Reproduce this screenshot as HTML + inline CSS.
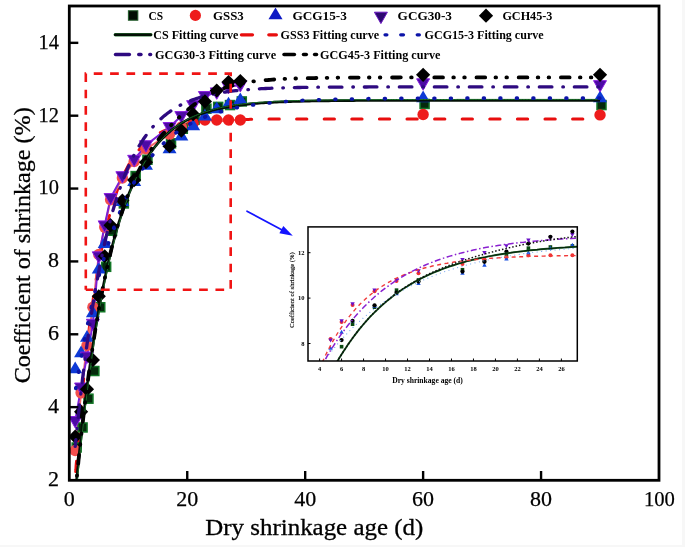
<!DOCTYPE html>
<html><head><meta charset="utf-8"><title>chart</title>
<style>
html,body{margin:0;padding:0;background:#fff;}
body{width:685px;height:547px;overflow:hidden;position:relative;font-family:"Liberation Serif",serif;}
</style></head><body>
<svg width="685" height="547" viewBox="0 0 685 547" style="display:block;position:absolute;left:0;top:0;will-change:transform">
<rect width="685" height="547" fill="#ffffff"/>
<rect x="682" y="0" width="3" height="547" fill="#f7f7f7"/>
<rect x="0" y="545" width="685" height="2" fill="#f7f7f7"/>
<defs>
<clipPath id="cm"><rect x="69.30" y="6.00" width="589.70" height="474.30"/></clipPath>
</defs>
<g clip-path="url(#cm)">
<path d="M75.2,478.5 L75.3,477.5 L75.4,475.5 L75.6,472.8 L75.9,469.5 L76.1,465.7 L76.5,461.5 L76.8,456.9 L77.2,451.9 L77.6,446.7 L78.1,441.1 L78.5,435.3 L79.0,429.4 L79.5,423.2 L80.1,416.9 L80.7,410.4 L81.3,403.8 L81.9,397.1 L82.5,390.4 L83.2,383.6 L83.9,376.7 L84.6,369.8 L85.3,363.0 L86.0,356.1 L86.8,349.2 L87.6,342.4 L88.4,335.6 L89.2,328.9 L90.0,322.3 L90.9,315.7 L91.8,309.2 L92.7,302.7 L93.6,296.4 L94.5,290.2 L95.4,284.1 L96.4,278.1 L97.4,272.3 L98.4,266.5 L99.4,260.9 L100.4,255.4 L101.5,250.0 L102.5,244.8 L103.6,239.7 L104.7,234.8 L105.8,230.0 L106.9,225.3 L108.0,220.8 L109.2,216.4 L110.4,212.1 L111.5,208.0 L112.7,204.0 L113.9,200.1 L115.2,196.4 L116.4,192.8 L117.6,189.3 L118.9,186.0 L120.2,182.8 L121.5,179.7 L122.8,176.7 L124.1,173.9 L125.4,171.1 L126.8,168.5 L128.1,166.0 L129.5,163.5 L130.9,161.2 L132.3,159.0 L133.7,156.9 L135.1,154.9 L136.6,152.9 L138.0,151.1 L139.5,149.3 L141.0,147.7 L142.5,146.1 L144.0,144.5 L145.5,143.1 L147.0,141.7 L148.5,140.4 L150.1,139.2 L151.7,138.0 L153.2,136.9 L154.8,135.8 L156.4,134.8 L158.0,133.8 L159.6,132.9 L161.3,132.1 L162.9,131.3 L164.6,130.5 L166.3,129.8 L167.9,129.1 L169.6,128.5 L171.3,127.9 L173.0,127.3 L174.8,126.8 L176.5,126.3 L178.3,125.8 L180.0,125.3 L181.8,124.9 L183.6,124.5 L185.4,124.1 L187.2,123.8 L189.0,123.5 L190.8,123.2 L192.6,122.9 L194.5,122.6 L196.3,122.3 L198.2,122.1 L200.1,121.9 L202.0,121.7 L203.9,121.5 L205.8,121.3 L207.7,121.1 L209.7,121.0 L211.6,120.8 L213.6,120.7 L215.5,120.6 L217.5,120.4 L219.5,120.3 L221.5,120.2 L223.5,120.1 L225.5,120.0 L227.5,119.9 L229.6,119.9 L231.6,119.8 L233.7,119.7 L235.7,119.7 L237.8,119.6 L239.9,119.6 L242.0,119.5 L244.1,119.5 L246.2,119.4 L248.3,119.4 L250.5,119.3 L252.6,119.3 L254.8,119.3 L256.9,119.2 L259.1,119.2 L261.3,119.2 L263.5,119.2 L265.7,119.2 L267.9,119.1 L270.1,119.1 L272.4,119.1 L274.6,119.1 L276.8,119.1 L279.1,119.1 L281.4,119.0 L283.7,119.0 L285.9,119.0 L288.2,119.0 L290.6,119.0 L292.9,119.0 L295.2,119.0 L297.5,119.0 L299.9,119.0 L302.2,119.0 L304.6,119.0 L307.0,119.0 L309.4,119.0 L311.7,119.0 L314.1,119.0 L316.6,118.9 L319.0,118.9 L321.4,118.9 L323.8,118.9 L326.3,118.9 L328.7,118.9 L331.2,118.9 L333.7,118.9 L336.1,118.9 L338.6,118.9 L341.1,118.9 L343.6,118.9 L346.2,118.9 L348.7,118.9 L351.2,118.9 L353.8,118.9 L356.3,118.9 L358.9,118.9 L361.4,118.9 L364.0,118.9 L366.6,118.9 L369.2,118.9 L371.8,118.9 L374.4,118.9 L377.0,118.9 L379.7,118.9 L382.3,118.9 L384.9,118.9 L387.6,118.9 L390.3,118.9 L392.9,118.9 L395.6,118.9 L398.3,118.9 L401.0,118.9 L403.7,118.9 L406.4,118.9 L409.1,118.9 L411.9,118.9 L414.6,118.9 L417.4,118.9 L420.1,118.9 L422.9,118.9 L425.6,118.9 L428.4,118.9 L431.2,118.9 L434.0,118.9 L436.8,118.9 L439.6,118.9 L442.4,118.9 L445.3,118.9 L448.1,118.9 L451.0,118.9 L453.8,118.9 L456.7,118.9 L459.5,118.9 L462.4,118.9 L465.3,118.9 L468.2,118.9 L471.1,118.9 L474.0,118.9 L476.9,118.9 L479.9,118.9 L482.8,118.9 L485.7,118.9 L488.7,118.9 L491.6,118.9 L494.6,118.9 L497.6,118.9 L500.6,118.9 L503.5,118.9 L506.5,118.9 L509.6,118.9 L512.6,118.9 L515.6,118.9 L518.6,118.9 L521.6,118.9 L524.7,118.9 L527.7,118.9 L530.8,118.9 L533.9,118.9 L536.9,118.9 L540.0,118.9 L543.1,118.9 L546.2,118.9 L549.3,118.9 L552.4,118.9 L555.5,118.9 L558.7,118.9 L561.8,118.9 L565.0,118.9 L568.1,118.9 L571.3,118.9 L574.4,118.9 L577.6,118.9 L580.8,118.9 L584.0,118.9 L587.2,118.9 L590.4,118.9 L593.6,118.9 L596.8,118.9 L600.0,118.9" fill="none" stroke="#e80e0e" stroke-width="3.0" stroke-linecap="round" stroke-dasharray="10.3 17.3" stroke-dashoffset="20.69"/>
<polyline points="75.20,450.43 81.09,392.87 86.99,345.51 92.89,307.26 98.78,254.43 104.68,227.11 110.58,199.79 122.37,177.93 134.17,161.54 145.96,148.79 169.55,134.22 181.34,126.93 193.14,123.29 204.93,120.01 216.73,120.01 228.52,120.01 240.31,120.01" fill="none" stroke="#f46a6a" stroke-width="2" stroke-linejoin="round"/>
<polyline points="75.20,420.92 81.09,387.40 86.99,356.44 92.89,323.65 98.78,256.26 104.68,225.29 110.58,197.97 122.37,176.11 134.17,159.72 145.96,145.14 169.55,126.93 181.34,116.00 193.14,105.07 204.93,95.96 216.73,92.32 228.52,86.86 240.31,85.03" fill="none" stroke="#7a1fd6" stroke-width="2" stroke-linejoin="round"/>
<rect x="72.17" y="443.01" width="9.00" height="9.00" fill="#052a0c" stroke="#127626" stroke-width="1.5" stroke-linejoin="miter"/>
<rect x="78.07" y="422.98" width="9.00" height="9.00" fill="#052a0c" stroke="#127626" stroke-width="1.5" stroke-linejoin="miter"/>
<rect x="83.97" y="394.20" width="9.00" height="9.00" fill="#052a0c" stroke="#127626" stroke-width="1.5" stroke-linejoin="miter"/>
<rect x="89.86" y="366.51" width="9.00" height="9.00" fill="#052a0c" stroke="#127626" stroke-width="1.5" stroke-linejoin="miter"/>
<rect x="95.76" y="302.76" width="9.00" height="9.00" fill="#052a0c" stroke="#127626" stroke-width="1.5" stroke-linejoin="miter"/>
<rect x="101.66" y="262.32" width="9.00" height="9.00" fill="#052a0c" stroke="#127626" stroke-width="1.5" stroke-linejoin="miter"/>
<rect x="107.55" y="226.25" width="9.00" height="9.00" fill="#052a0c" stroke="#127626" stroke-width="1.5" stroke-linejoin="miter"/>
<rect x="119.35" y="198.93" width="9.00" height="9.00" fill="#052a0c" stroke="#127626" stroke-width="1.5" stroke-linejoin="miter"/>
<rect x="131.14" y="171.61" width="9.00" height="9.00" fill="#052a0c" stroke="#127626" stroke-width="1.5" stroke-linejoin="miter"/>
<rect x="142.94" y="155.22" width="9.00" height="9.00" fill="#052a0c" stroke="#127626" stroke-width="1.5" stroke-linejoin="miter"/>
<rect x="166.52" y="138.82" width="9.00" height="9.00" fill="#052a0c" stroke="#127626" stroke-width="1.5" stroke-linejoin="miter"/>
<rect x="178.32" y="124.25" width="9.00" height="9.00" fill="#052a0c" stroke="#127626" stroke-width="1.5" stroke-linejoin="miter"/>
<rect x="190.11" y="115.14" width="9.00" height="9.00" fill="#052a0c" stroke="#127626" stroke-width="1.5" stroke-linejoin="miter"/>
<rect x="201.91" y="104.21" width="9.00" height="9.00" fill="#052a0c" stroke="#127626" stroke-width="1.5" stroke-linejoin="miter"/>
<rect x="213.70" y="102.39" width="9.00" height="9.00" fill="#052a0c" stroke="#127626" stroke-width="1.5" stroke-linejoin="miter"/>
<rect x="225.49" y="100.57" width="9.00" height="9.00" fill="#052a0c" stroke="#127626" stroke-width="1.5" stroke-linejoin="miter"/>
<rect x="237.29" y="96.93" width="9.00" height="9.00" fill="#052a0c" stroke="#127626" stroke-width="1.5" stroke-linejoin="miter"/>
<rect x="420.09" y="99.48" width="9.00" height="9.00" fill="#052a0c" stroke="#127626" stroke-width="1.5" stroke-linejoin="miter"/>
<rect x="597.00" y="100.57" width="9.00" height="9.00" fill="#052a0c" stroke="#127626" stroke-width="1.5" stroke-linejoin="miter"/>
<circle cx="75.20" cy="450.43" r="5.70" fill="#f24e4e"/>
<circle cx="81.09" cy="392.87" r="5.70" fill="#f24e4e"/>
<circle cx="86.99" cy="345.51" r="5.70" fill="#f24e4e"/>
<circle cx="92.89" cy="307.26" r="5.70" fill="#f24e4e"/>
<circle cx="98.78" cy="254.43" r="5.70" fill="#f24e4e"/>
<circle cx="104.68" cy="227.11" r="5.70" fill="#f24e4e"/>
<circle cx="110.58" cy="199.79" r="5.70" fill="#f24e4e"/>
<circle cx="122.37" cy="177.93" r="5.70" fill="#f24e4e"/>
<circle cx="134.17" cy="161.54" r="5.70" fill="#f24e4e"/>
<circle cx="145.96" cy="148.79" r="5.70" fill="#f24e4e"/>
<circle cx="169.55" cy="134.22" r="5.70" fill="#f24e4e"/>
<circle cx="181.34" cy="126.93" r="5.70" fill="#f24e4e"/>
<circle cx="193.14" cy="123.29" r="5.70" fill="#ee1c1c"/>
<circle cx="204.93" cy="120.01" r="5.70" fill="#ee1c1c"/>
<circle cx="216.73" cy="120.01" r="5.70" fill="#ee1c1c"/>
<circle cx="228.52" cy="120.01" r="5.70" fill="#ee1c1c"/>
<circle cx="240.31" cy="120.01" r="5.70" fill="#ee1c1c"/>
<circle cx="423.12" cy="114.54" r="5.70" fill="#ee1c1c"/>
<circle cx="600.03" cy="114.91" r="5.70" fill="#ee1c1c"/>
<polygon points="68.20,373.32 82.20,373.32 75.20,361.62" fill="#0e3ad6"/>
<polygon points="74.09,357.30 88.09,357.30 81.09,345.60" fill="#0e3ad6"/>
<polygon points="79.99,341.63 93.99,341.63 86.99,329.93" fill="#0e3ad6"/>
<polygon points="85.89,317.22 99.89,317.22 92.89,305.52" fill="#0e3ad6"/>
<polygon points="91.78,273.51 105.78,273.51 98.78,261.81" fill="#0e3ad6"/>
<polygon points="97.68,248.01 111.68,248.01 104.68,236.31" fill="#0e3ad6"/>
<polygon points="103.58,229.79 117.58,229.79 110.58,218.09" fill="#0e3ad6"/>
<polygon points="115.37,206.11 129.37,206.11 122.37,194.41" fill="#0e3ad6"/>
<polygon points="127.17,186.07 141.17,186.07 134.17,174.37" fill="#0e3ad6"/>
<polygon points="138.96,169.68 152.96,169.68 145.96,157.98" fill="#0e3ad6"/>
<polygon points="162.55,153.29 176.55,153.29 169.55,141.59" fill="#0e3ad6"/>
<polygon points="174.34,140.54 188.34,140.54 181.34,128.84" fill="#0e3ad6"/>
<polygon points="186.14,130.34 200.14,130.34 193.14,118.64" fill="#0e3ad6"/>
<polygon points="197.93,120.50 211.93,120.50 204.93,108.80" fill="#0e3ad6"/>
<polygon points="209.73,113.21 223.73,113.21 216.73,101.51" fill="#0e3ad6"/>
<polygon points="221.52,108.48 235.52,108.48 228.52,96.78" fill="#0e3ad6"/>
<polygon points="233.31,104.11 247.31,104.11 240.31,92.41" fill="#0e3ad6"/>
<polygon points="416.12,102.29 430.12,102.29 423.12,90.59" fill="#0e3ad6"/>
<polygon points="593.03,102.29 607.03,102.29 600.03,90.59" fill="#0e3ad6"/>
<polygon points="68.70,416.52 81.70,416.52 75.20,427.92" fill="#4c0aa4" stroke="#8a1ee0" stroke-width="1.0" stroke-linejoin="miter"/>
<polygon points="74.59,383.00 87.59,383.00 81.09,394.40" fill="#4c0aa4" stroke="#8a1ee0" stroke-width="1.0" stroke-linejoin="miter"/>
<polygon points="80.49,352.04 93.49,352.04 86.99,363.44" fill="#4c0aa4" stroke="#8a1ee0" stroke-width="1.0" stroke-linejoin="miter"/>
<polygon points="86.39,319.25 99.39,319.25 92.89,330.65" fill="#4c0aa4" stroke="#8a1ee0" stroke-width="1.0" stroke-linejoin="miter"/>
<polygon points="92.28,251.86 105.28,251.86 98.78,263.26" fill="#4c0aa4" stroke="#8a1ee0" stroke-width="1.0" stroke-linejoin="miter"/>
<polygon points="98.18,220.89 111.18,220.89 104.68,232.29" fill="#4c0aa4" stroke="#8a1ee0" stroke-width="1.0" stroke-linejoin="miter"/>
<polygon points="104.08,193.57 117.08,193.57 110.58,204.97" fill="#4c0aa4" stroke="#8a1ee0" stroke-width="1.0" stroke-linejoin="miter"/>
<polygon points="115.87,171.71 128.87,171.71 122.37,183.11" fill="#4c0aa4" stroke="#8a1ee0" stroke-width="1.0" stroke-linejoin="miter"/>
<polygon points="127.67,155.32 140.67,155.32 134.17,166.72" fill="#4c0aa4" stroke="#8a1ee0" stroke-width="1.0" stroke-linejoin="miter"/>
<polygon points="139.46,140.74 152.46,140.74 145.96,152.14" fill="#4c0aa4" stroke="#8a1ee0" stroke-width="1.0" stroke-linejoin="miter"/>
<polygon points="163.05,122.53 176.05,122.53 169.55,133.93" fill="#4c0aa4" stroke="#8a1ee0" stroke-width="1.0" stroke-linejoin="miter"/>
<polygon points="174.84,111.60 187.84,111.60 181.34,123.00" fill="#4c0aa4" stroke="#8a1ee0" stroke-width="1.0" stroke-linejoin="miter"/>
<polygon points="186.64,100.67 199.64,100.67 193.14,112.07" fill="#4c0aa4" stroke="#8a1ee0" stroke-width="1.0" stroke-linejoin="miter"/>
<polygon points="198.43,91.56 211.43,91.56 204.93,102.96" fill="#4c0aa4" stroke="#8a1ee0" stroke-width="1.0" stroke-linejoin="miter"/>
<polygon points="210.23,87.92 223.23,87.92 216.73,99.32" fill="#4c0aa4" stroke="#8a1ee0" stroke-width="1.0" stroke-linejoin="miter"/>
<polygon points="222.02,82.46 235.02,82.46 228.52,93.86" fill="#4c0aa4" stroke="#8a1ee0" stroke-width="1.0" stroke-linejoin="miter"/>
<polygon points="233.81,80.63 246.81,80.63 240.31,92.03" fill="#4c0aa4" stroke="#8a1ee0" stroke-width="1.0" stroke-linejoin="miter"/>
<polygon points="416.62,78.81 429.62,78.81 423.12,90.21" fill="#4c0aa4" stroke="#8a1ee0" stroke-width="1.0" stroke-linejoin="miter"/>
<polygon points="593.53,80.63 606.53,80.63 600.03,92.03" fill="#4c0aa4" stroke="#8a1ee0" stroke-width="1.0" stroke-linejoin="miter"/>
<polygon points="68.10,436.58 75.20,429.48 82.30,436.58 75.20,443.68" fill="#000000"/>
<polygon points="73.99,411.81 81.09,404.71 88.19,411.81 81.09,418.91" fill="#000000"/>
<polygon points="79.89,389.23 86.99,382.12 94.09,389.23 86.99,396.33" fill="#000000"/>
<polygon points="85.79,360.08 92.89,352.98 99.99,360.08 92.89,367.18" fill="#000000"/>
<polygon points="91.69,296.33 98.78,289.23 105.88,296.33 98.78,303.43" fill="#000000"/>
<polygon points="97.58,256.26 104.68,249.16 111.78,256.26 104.68,263.36" fill="#000000"/>
<polygon points="103.48,225.29 110.58,218.19 117.68,225.29 110.58,232.39" fill="#000000"/>
<polygon points="115.27,200.52 122.37,193.42 129.47,200.52 122.37,207.62" fill="#000000"/>
<polygon points="127.07,180.12 134.17,173.02 141.27,180.12 134.17,187.22" fill="#000000"/>
<polygon points="138.86,162.27 145.96,155.17 153.06,162.27 145.96,169.37" fill="#000000"/>
<polygon points="162.45,146.24 169.55,139.14 176.65,146.24 169.55,153.34" fill="#000000"/>
<polygon points="174.24,130.57 181.34,123.47 188.44,130.57 181.34,137.67" fill="#000000"/>
<polygon points="186.04,114.18 193.14,107.08 200.24,114.18 193.14,121.28" fill="#000000"/>
<polygon points="197.83,101.43 204.93,94.33 212.03,101.43 204.93,108.53" fill="#000000"/>
<polygon points="209.63,90.50 216.73,83.40 223.83,90.50 216.73,97.60" fill="#000000"/>
<polygon points="221.42,82.12 228.52,75.02 235.62,82.12 228.52,89.22" fill="#000000"/>
<polygon points="233.21,81.03 240.31,73.93 247.41,81.03 240.31,88.13" fill="#000000"/>
<polygon points="416.02,74.83 423.12,67.73 430.22,74.83 423.12,81.93" fill="#000000"/>
<polygon points="592.93,74.83 600.03,67.73 607.13,74.83 600.03,81.93" fill="#000000"/>
<path d="M75.2,494.5 L75.3,493.7 L75.4,492.2 L75.6,490.1 L75.9,487.5 L76.1,484.6 L76.5,481.4 L76.8,477.8 L77.2,473.9 L77.6,469.8 L78.1,465.4 L78.5,460.8 L79.0,456.1 L79.5,451.1 L80.1,446.0 L80.7,440.8 L81.3,435.4 L81.9,429.9 L82.5,424.3 L83.2,418.6 L83.9,412.8 L84.6,407.0 L85.3,401.1 L86.0,395.2 L86.8,389.2 L87.6,383.2 L88.4,377.2 L89.2,371.2 L90.0,365.1 L90.9,359.1 L91.8,353.1 L92.7,347.2 L93.6,341.2 L94.5,335.3 L95.4,329.4 L96.4,323.6 L97.4,317.8 L98.4,312.1 L99.4,306.5 L100.4,300.9 L101.5,295.3 L102.5,289.9 L103.6,284.5 L104.7,279.2 L105.8,274.0 L106.9,268.9 L108.0,263.8 L109.2,258.9 L110.4,254.0 L111.5,249.2 L112.7,244.5 L113.9,239.9 L115.2,235.4 L116.4,231.0 L117.6,226.7 L118.9,222.5 L120.2,218.4 L121.5,214.4 L122.8,210.5 L124.1,206.6 L125.4,202.9 L126.8,199.3 L128.1,195.7 L129.5,192.3 L130.9,188.9 L132.3,185.7 L133.7,182.5 L135.1,179.4 L136.6,176.4 L138.0,173.5 L139.5,170.7 L141.0,168.0 L142.5,165.4 L144.0,162.8 L145.5,160.3 L147.0,157.9 L148.5,155.6 L150.1,153.3 L151.7,151.2 L153.2,149.1 L154.8,147.0 L156.4,145.1 L158.0,143.2 L159.6,141.4 L161.3,139.6 L162.9,137.9 L164.6,136.3 L166.3,134.7 L167.9,133.2 L169.6,131.7 L171.3,130.3 L173.0,129.0 L174.8,127.7 L176.5,126.5 L178.3,125.3 L180.0,124.1 L181.8,123.0 L183.6,122.0 L185.4,120.9 L187.2,120.0 L189.0,119.0 L190.8,118.1 L192.6,117.3 L194.5,116.5 L196.3,115.7 L198.2,114.9 L200.1,114.2 L202.0,113.5 L203.9,112.9 L205.8,112.3 L207.7,111.7 L209.7,111.1 L211.6,110.5 L213.6,110.0 L215.5,109.5 L217.5,109.0 L219.5,108.6 L221.5,108.2 L223.5,107.8 L225.5,107.4 L227.5,107.0 L229.6,106.6 L231.6,106.3 L233.7,106.0 L235.7,105.7 L237.8,105.4 L239.9,105.1 L242.0,104.9 L244.1,104.6 L246.2,104.4 L248.3,104.1 L250.5,103.9 L252.6,103.7 L254.8,103.5 L256.9,103.4 L259.1,103.2 L261.3,103.0 L263.5,102.9 L265.7,102.7 L267.9,102.6 L270.1,102.5 L272.4,102.3 L274.6,102.2 L276.8,102.1 L279.1,102.0 L281.4,101.9 L283.7,101.8 L285.9,101.7 L288.2,101.6 L290.6,101.6 L292.9,101.5 L295.2,101.4 L297.5,101.4 L299.9,101.3 L302.2,101.2 L304.6,101.2 L307.0,101.1 L309.4,101.1 L311.7,101.0 L314.1,101.0 L316.6,100.9 L319.0,100.9 L321.4,100.9 L323.8,100.8 L326.3,100.8 L328.7,100.8 L331.2,100.7 L333.7,100.7 L336.1,100.7 L338.6,100.7 L341.1,100.7 L343.6,100.6 L346.2,100.6 L348.7,100.6 L351.2,100.6 L353.8,100.6 L356.3,100.5 L358.9,100.5 L361.4,100.5 L364.0,100.5 L366.6,100.5 L369.2,100.5 L371.8,100.5 L374.4,100.5 L377.0,100.5 L379.7,100.4 L382.3,100.4 L384.9,100.4 L387.6,100.4 L390.3,100.4 L392.9,100.4 L395.6,100.4 L398.3,100.4 L401.0,100.4 L403.7,100.4 L406.4,100.4 L409.1,100.4 L411.9,100.4 L414.6,100.4 L417.4,100.4 L420.1,100.4 L422.9,100.4 L425.6,100.4 L428.4,100.4 L431.2,100.4 L434.0,100.4 L436.8,100.4 L439.6,100.4 L442.4,100.4 L445.3,100.4 L448.1,100.4 L451.0,100.4 L453.8,100.4 L456.7,100.3 L459.5,100.3 L462.4,100.3 L465.3,100.3 L468.2,100.3 L471.1,100.3 L474.0,100.3 L476.9,100.3 L479.9,100.3 L482.8,100.3 L485.7,100.3 L488.7,100.3 L491.6,100.3 L494.6,100.3 L497.6,100.3 L500.6,100.3 L503.5,100.3 L506.5,100.3 L509.6,100.3 L512.6,100.3 L515.6,100.3 L518.6,100.3 L521.6,100.3 L524.7,100.3 L527.7,100.3 L530.8,100.3 L533.9,100.3 L536.9,100.3 L540.0,100.3 L543.1,100.3 L546.2,100.3 L549.3,100.3 L552.4,100.3 L555.5,100.3 L558.7,100.3 L561.8,100.3 L565.0,100.3 L568.1,100.3 L571.3,100.3 L574.4,100.3 L577.6,100.3 L580.8,100.3 L584.0,100.3 L587.2,100.3 L590.4,100.3 L593.6,100.3 L596.8,100.3 L600.0,100.3" fill="none" stroke="#031006" stroke-width="2.7"/>
<path d="M75.2,494.5 L75.3,493.7 L75.4,492.2 L75.6,490.1 L75.9,487.5 L76.1,484.6 L76.5,481.4 L76.8,477.8 L77.2,473.9 L77.6,469.8 L78.1,465.4 L78.5,460.8 L79.0,456.1 L79.5,451.1 L80.1,446.0 L80.7,440.8 L81.3,435.4 L81.9,429.9 L82.5,424.3 L83.2,418.6 L83.9,412.8 L84.6,407.0 L85.3,401.1 L86.0,395.2 L86.8,389.2 L87.6,383.2 L88.4,377.2 L89.2,371.2 L90.0,365.1 L90.9,359.1 L91.8,353.1 L92.7,347.2 L93.6,341.2 L94.5,335.3 L95.4,329.4 L96.4,323.6 L97.4,317.8 L98.4,312.1 L99.4,306.5 L100.4,300.9 L101.5,295.3 L102.5,289.9 L103.6,284.5 L104.7,279.2 L105.8,274.0 L106.9,268.9 L108.0,263.8 L109.2,258.9 L110.4,254.0 L111.5,249.2 L112.7,244.5 L113.9,239.9 L115.2,235.4 L116.4,231.0 L117.6,226.7 L118.9,222.5 L120.2,218.4 L121.5,214.4 L122.8,210.5 L124.1,206.6 L125.4,202.9 L126.8,199.3 L128.1,195.7 L129.5,192.3 L130.9,188.9 L132.3,185.7 L133.7,182.5 L135.1,179.4 L136.6,176.4 L138.0,173.5 L139.5,170.7 L141.0,168.0 L142.5,165.4 L144.0,162.8 L145.5,160.3 L147.0,157.9 L148.5,155.6 L150.1,153.3 L151.7,151.2 L153.2,149.1 L154.8,147.0 L156.4,145.1 L158.0,143.2 L159.6,141.4 L161.3,139.6 L162.9,137.9 L164.6,136.3 L166.3,134.7 L167.9,133.2 L169.6,131.7 L171.3,130.3 L173.0,129.0 L174.8,127.7 L176.5,126.5 L178.3,125.3 L180.0,124.1 L181.8,123.0 L183.6,122.0 L185.4,120.9 L187.2,120.0 L189.0,119.0 L190.8,118.1 L192.6,117.3 L194.5,116.5 L196.3,115.7 L198.2,114.9 L200.1,114.2 L202.0,113.5 L203.9,112.9 L205.8,112.3 L207.7,111.7 L209.7,111.1 L211.6,110.5 L213.6,110.0 L215.5,109.5 L217.5,109.0 L219.5,108.6 L221.5,108.2 L223.5,107.8 L225.5,107.4 L227.5,107.0 L229.6,106.6 L231.6,106.3 L233.7,106.0 L235.7,105.7 L237.8,105.4 L239.9,105.1 L242.0,104.9 L244.1,104.6 L246.2,104.4 L248.3,104.1 L250.5,103.9 L252.6,103.7 L254.8,103.5 L256.9,103.4 L259.1,103.2 L261.3,103.0 L263.5,102.9 L265.7,102.7 L267.9,102.6 L270.1,102.5 L272.4,102.3 L274.6,102.2 L276.8,102.1 L279.1,102.0 L281.4,101.9 L283.7,101.8 L285.9,101.7 L288.2,101.6 L290.6,101.6 L292.9,101.5 L295.2,101.4 L297.5,101.4 L299.9,101.3 L302.2,101.2 L304.6,101.2 L307.0,101.1 L309.4,101.1 L311.7,101.0 L314.1,101.0 L316.6,100.9 L319.0,100.9 L321.4,100.9 L323.8,100.8 L326.3,100.8 L328.7,100.8 L331.2,100.7 L333.7,100.7 L336.1,100.7 L338.6,100.7 L341.1,100.7 L343.6,100.6 L346.2,100.6 L348.7,100.6 L351.2,100.6 L353.8,100.6 L356.3,100.5 L358.9,100.5 L361.4,100.5 L364.0,100.5 L366.6,100.5 L369.2,100.5 L371.8,100.5 L374.4,100.5 L377.0,100.5 L379.7,100.4 L382.3,100.4 L384.9,100.4 L387.6,100.4 L390.3,100.4 L392.9,100.4 L395.6,100.4 L398.3,100.4 L401.0,100.4 L403.7,100.4 L406.4,100.4 L409.1,100.4 L411.9,100.4 L414.6,100.4 L417.4,100.4 L420.1,100.4 L422.9,100.4 L425.6,100.4 L428.4,100.4 L431.2,100.4 L434.0,100.4 L436.8,100.4 L439.6,100.4 L442.4,100.4 L445.3,100.4 L448.1,100.4 L451.0,100.4 L453.8,100.4 L456.7,100.3 L459.5,100.3 L462.4,100.3 L465.3,100.3 L468.2,100.3 L471.1,100.3 L474.0,100.3 L476.9,100.3 L479.9,100.3 L482.8,100.3 L485.7,100.3 L488.7,100.3 L491.6,100.3 L494.6,100.3 L497.6,100.3 L500.6,100.3 L503.5,100.3 L506.5,100.3 L509.6,100.3 L512.6,100.3 L515.6,100.3 L518.6,100.3 L521.6,100.3 L524.7,100.3 L527.7,100.3 L530.8,100.3 L533.9,100.3 L536.9,100.3 L540.0,100.3 L543.1,100.3 L546.2,100.3 L549.3,100.3 L552.4,100.3 L555.5,100.3 L558.7,100.3 L561.8,100.3 L565.0,100.3 L568.1,100.3 L571.3,100.3 L574.4,100.3 L577.6,100.3 L580.8,100.3 L584.0,100.3 L587.2,100.3 L590.4,100.3 L593.6,100.3 L596.8,100.3 L600.0,100.3" fill="none" stroke="#1c6e2a" stroke-width="1.0" transform="translate(0.9,-0.9)"/>
<path d="M75.2,392.3 L75.3,391.9 L75.4,391.0 L75.6,389.7 L75.9,388.2 L76.1,386.5 L76.5,384.6 L76.8,382.4 L77.2,380.1 L77.6,377.6 L78.1,375.0 L78.5,372.3 L79.0,369.4 L79.5,366.4 L80.1,363.3 L80.7,360.1 L81.3,356.8 L81.9,353.5 L82.5,350.0 L83.2,346.5 L83.9,343.0 L84.6,339.3 L85.3,335.7 L86.0,332.0 L86.8,328.2 L87.6,324.4 L88.4,320.6 L89.2,316.8 L90.0,312.9 L90.9,309.0 L91.8,305.2 L92.7,301.3 L93.6,297.4 L94.5,293.5 L95.4,289.7 L96.4,285.8 L97.4,281.9 L98.4,278.1 L99.4,274.3 L100.4,270.5 L101.5,266.7 L102.5,263.0 L103.6,259.3 L104.7,255.6 L105.8,252.0 L106.9,248.3 L108.0,244.8 L109.2,241.2 L110.4,237.8 L111.5,234.3 L112.7,230.9 L113.9,227.6 L115.2,224.2 L116.4,221.0 L117.6,217.8 L118.9,214.6 L120.2,211.5 L121.5,208.4 L122.8,205.4 L124.1,202.5 L125.4,199.5 L126.8,196.7 L128.1,193.9 L129.5,191.1 L130.9,188.5 L132.3,185.8 L133.7,183.2 L135.1,180.7 L136.6,178.2 L138.0,175.8 L139.5,173.4 L141.0,171.1 L142.5,168.8 L144.0,166.6 L145.5,164.5 L147.0,162.4 L148.5,160.3 L150.1,158.3 L151.7,156.3 L153.2,154.4 L154.8,152.6 L156.4,150.7 L158.0,149.0 L159.6,147.3 L161.3,145.6 L162.9,144.0 L164.6,142.4 L166.3,140.8 L167.9,139.4 L169.6,137.9 L171.3,136.5 L173.0,135.1 L174.8,133.8 L176.5,132.5 L178.3,131.3 L180.0,130.0 L181.8,128.9 L183.6,127.7 L185.4,126.6 L187.2,125.6 L189.0,124.5 L190.8,123.5 L192.6,122.6 L194.5,121.6 L196.3,120.7 L198.2,119.8 L200.1,119.0 L202.0,118.2 L203.9,117.4 L205.8,116.6 L207.7,115.9 L209.7,115.2 L211.6,114.5 L213.6,113.8 L215.5,113.2 L217.5,112.6 L219.5,112.0 L221.5,111.4 L223.5,110.8 L225.5,110.3 L227.5,109.8 L229.6,109.3 L231.6,108.8 L233.7,108.4 L235.7,107.9 L237.8,107.5 L239.9,107.1 L242.0,106.7 L244.1,106.3 L246.2,106.0 L248.3,105.6 L250.5,105.3 L252.6,105.0 L254.8,104.7 L256.9,104.4 L259.1,104.1 L261.3,103.8 L263.5,103.6 L265.7,103.3 L267.9,103.1 L270.1,102.9 L272.4,102.7 L274.6,102.4 L276.8,102.2 L279.1,102.1 L281.4,101.9 L283.7,101.7 L285.9,101.5 L288.2,101.4 L290.6,101.2 L292.9,101.1 L295.2,100.9 L297.5,100.8 L299.9,100.7 L302.2,100.5 L304.6,100.4 L307.0,100.3 L309.4,100.2 L311.7,100.1 L314.1,100.0 L316.6,99.9 L319.0,99.8 L321.4,99.7 L323.8,99.7 L326.3,99.6 L328.7,99.5 L331.2,99.4 L333.7,99.4 L336.1,99.3 L338.6,99.3 L341.1,99.2 L343.6,99.1 L346.2,99.1 L348.7,99.0 L351.2,99.0 L353.8,99.0 L356.3,98.9 L358.9,98.9 L361.4,98.8 L364.0,98.8 L366.6,98.8 L369.2,98.7 L371.8,98.7 L374.4,98.7 L377.0,98.6 L379.7,98.6 L382.3,98.6 L384.9,98.6 L387.6,98.5 L390.3,98.5 L392.9,98.5 L395.6,98.5 L398.3,98.5 L401.0,98.4 L403.7,98.4 L406.4,98.4 L409.1,98.4 L411.9,98.4 L414.6,98.4 L417.4,98.4 L420.1,98.3 L422.9,98.3 L425.6,98.3 L428.4,98.3 L431.2,98.3 L434.0,98.3 L436.8,98.3 L439.6,98.3 L442.4,98.3 L445.3,98.3 L448.1,98.3 L451.0,98.3 L453.8,98.2 L456.7,98.2 L459.5,98.2 L462.4,98.2 L465.3,98.2 L468.2,98.2 L471.1,98.2 L474.0,98.2 L476.9,98.2 L479.9,98.2 L482.8,98.2 L485.7,98.2 L488.7,98.2 L491.6,98.2 L494.6,98.2 L497.6,98.2 L500.6,98.2 L503.5,98.2 L506.5,98.2 L509.6,98.2 L512.6,98.2 L515.6,98.2 L518.6,98.2 L521.6,98.2 L524.7,98.2 L527.7,98.2 L530.8,98.2 L533.9,98.2 L536.9,98.2 L540.0,98.2 L543.1,98.2 L546.2,98.2 L549.3,98.2 L552.4,98.2 L555.5,98.2 L558.7,98.2 L561.8,98.2 L565.0,98.2 L568.1,98.2 L571.3,98.2 L574.4,98.2 L577.6,98.2 L580.8,98.2 L584.0,98.2 L587.2,98.2 L590.4,98.2 L593.6,98.2 L596.8,98.2 L600.0,98.2" fill="none" stroke="#0c14a8" stroke-width="3.7" stroke-linecap="round" stroke-dasharray="0.8 15.7" stroke-dashoffset="12.58"/>
<path d="M75.2,446.4 L75.3,445.7 L75.4,444.2 L75.6,442.2 L75.9,439.8 L76.1,437.0 L76.5,433.8 L76.8,430.4 L77.2,426.7 L77.6,422.7 L78.1,418.5 L78.5,414.1 L79.0,409.6 L79.5,404.8 L80.1,400.0 L80.7,394.9 L81.3,389.8 L81.9,384.6 L82.5,379.2 L83.2,373.8 L83.9,368.3 L84.6,362.8 L85.3,357.2 L86.0,351.6 L86.8,345.9 L87.6,340.3 L88.4,334.6 L89.2,328.9 L90.0,323.2 L90.9,317.6 L91.8,311.9 L92.7,306.3 L93.6,300.7 L94.5,295.2 L95.4,289.7 L96.4,284.3 L97.4,278.9 L98.4,273.6 L99.4,268.3 L100.4,263.1 L101.5,258.0 L102.5,253.0 L103.6,248.0 L104.7,243.1 L105.8,238.3 L106.9,233.6 L108.0,229.0 L109.2,224.4 L110.4,220.0 L111.5,215.6 L112.7,211.3 L113.9,207.2 L115.2,203.1 L116.4,199.1 L117.6,195.2 L118.9,191.4 L120.2,187.7 L121.5,184.0 L122.8,180.5 L124.1,177.1 L125.4,173.8 L126.8,170.5 L128.1,167.4 L129.5,164.3 L130.9,161.3 L132.3,158.4 L133.7,155.6 L135.1,152.9 L136.6,150.3 L138.0,147.7 L139.5,145.3 L141.0,142.9 L142.5,140.6 L144.0,138.3 L145.5,136.2 L147.0,134.1 L148.5,132.1 L150.1,130.2 L151.7,128.3 L153.2,126.5 L154.8,124.7 L156.4,123.1 L158.0,121.5 L159.6,119.9 L161.3,118.4 L162.9,117.0 L164.6,115.6 L166.3,114.3 L167.9,113.0 L169.6,111.8 L171.3,110.6 L173.0,109.5 L174.8,108.4 L176.5,107.4 L178.3,106.4 L180.0,105.4 L181.8,104.5 L183.6,103.7 L185.4,102.8 L187.2,102.0 L189.0,101.3 L190.8,100.6 L192.6,99.9 L194.5,99.2 L196.3,98.6 L198.2,98.0 L200.1,97.4 L202.0,96.8 L203.9,96.3 L205.8,95.8 L207.7,95.4 L209.7,94.9 L211.6,94.5 L213.6,94.1 L215.5,93.7 L217.5,93.3 L219.5,92.9 L221.5,92.6 L223.5,92.3 L225.5,92.0 L227.5,91.7 L229.6,91.4 L231.6,91.2 L233.7,90.9 L235.7,90.7 L237.8,90.5 L239.9,90.3 L242.0,90.1 L244.1,89.9 L246.2,89.7 L248.3,89.6 L250.5,89.4 L252.6,89.2 L254.8,89.1 L256.9,89.0 L259.1,88.8 L261.3,88.7 L263.5,88.6 L265.7,88.5 L267.9,88.4 L270.1,88.3 L272.4,88.2 L274.6,88.1 L276.8,88.1 L279.1,88.0 L281.4,87.9 L283.7,87.8 L285.9,87.8 L288.2,87.7 L290.6,87.7 L292.9,87.6 L295.2,87.6 L297.5,87.5 L299.9,87.5 L302.2,87.4 L304.6,87.4 L307.0,87.4 L309.4,87.3 L311.7,87.3 L314.1,87.3 L316.6,87.2 L319.0,87.2 L321.4,87.2 L323.8,87.2 L326.3,87.2 L328.7,87.1 L331.2,87.1 L333.7,87.1 L336.1,87.1 L338.6,87.1 L341.1,87.1 L343.6,87.0 L346.2,87.0 L348.7,87.0 L351.2,87.0 L353.8,87.0 L356.3,87.0 L358.9,87.0 L361.4,87.0 L364.0,87.0 L366.6,87.0 L369.2,86.9 L371.8,86.9 L374.4,86.9 L377.0,86.9 L379.7,86.9 L382.3,86.9 L384.9,86.9 L387.6,86.9 L390.3,86.9 L392.9,86.9 L395.6,86.9 L398.3,86.9 L401.0,86.9 L403.7,86.9 L406.4,86.9 L409.1,86.9 L411.9,86.9 L414.6,86.9 L417.4,86.9 L420.1,86.9 L422.9,86.9 L425.6,86.9 L428.4,86.9 L431.2,86.9 L434.0,86.9 L436.8,86.9 L439.6,86.9 L442.4,86.9 L445.3,86.9 L448.1,86.9 L451.0,86.9 L453.8,86.9 L456.7,86.9 L459.5,86.9 L462.4,86.9 L465.3,86.9 L468.2,86.9 L471.1,86.9 L474.0,86.9 L476.9,86.9 L479.9,86.9 L482.8,86.9 L485.7,86.9 L488.7,86.9 L491.6,86.9 L494.6,86.9 L497.6,86.9 L500.6,86.9 L503.5,86.9 L506.5,86.9 L509.6,86.9 L512.6,86.9 L515.6,86.9 L518.6,86.9 L521.6,86.9 L524.7,86.9 L527.7,86.9 L530.8,86.9 L533.9,86.9 L536.9,86.9 L540.0,86.9 L543.1,86.9 L546.2,86.9 L549.3,86.9 L552.4,86.9 L555.5,86.9 L558.7,86.9 L561.8,86.9 L565.0,86.9 L568.1,86.9 L571.3,86.9 L574.4,86.9 L577.6,86.9 L580.8,86.9 L584.0,86.9 L587.2,86.9 L590.4,86.9 L593.6,86.9 L596.8,86.9 L600.0,86.9" fill="none" stroke="#2e0a80" stroke-width="3.3" stroke-linecap="round" stroke-dasharray="12.6 10.9 0.6 10.9" stroke-dashoffset="5.92"/>
<path d="M75.2,494.1 L75.3,493.3 L75.4,491.8 L75.6,489.7 L75.9,487.2 L76.1,484.2 L76.5,481.0 L76.8,477.4 L77.2,473.5 L77.6,469.4 L78.1,465.0 L78.5,460.4 L79.0,455.7 L79.5,450.7 L80.1,445.6 L80.7,440.3 L81.3,435.0 L81.9,429.5 L82.5,423.9 L83.2,418.2 L83.9,412.4 L84.6,406.6 L85.3,400.7 L86.0,394.7 L86.8,388.8 L87.6,382.8 L88.4,376.8 L89.2,370.7 L90.0,364.7 L90.9,358.7 L91.8,352.7 L92.7,346.7 L93.6,340.8 L94.5,334.9 L95.4,329.0 L96.4,323.2 L97.4,317.4 L98.4,311.6 L99.4,306.0 L100.4,300.4 L101.5,294.9 L102.5,289.4 L103.6,284.0 L104.7,278.7 L105.8,273.5 L106.9,268.3 L108.0,263.3 L109.2,258.3 L110.4,253.4 L111.5,248.6 L112.7,243.9 L113.9,239.3 L115.2,234.8 L116.4,230.4 L117.6,226.1 L118.9,221.8 L120.2,217.7 L121.5,213.6 L122.8,209.7 L124.1,205.8 L125.4,202.1 L126.8,198.4 L128.1,194.8 L129.5,191.3 L130.9,187.9 L132.3,184.6 L133.7,181.4 L135.1,178.2 L136.6,175.2 L138.0,172.2 L139.5,169.3 L141.0,166.5 L142.5,163.8 L144.0,161.1 L145.5,158.5 L147.0,156.0 L148.5,153.5 L150.1,151.1 L151.7,148.8 L153.2,146.6 L154.8,144.3 L156.4,142.2 L158.0,140.1 L159.6,138.0 L161.3,136.0 L162.9,134.1 L164.6,132.2 L166.3,130.3 L167.9,128.5 L169.6,126.7 L171.3,124.9 L173.0,123.1 L174.8,121.4 L176.5,119.7 L178.3,118.1 L180.0,116.5 L181.8,114.9 L183.6,113.3 L185.4,111.7 L187.2,110.2 L189.0,108.7 L190.8,107.2 L192.6,105.8 L194.5,104.4 L196.3,103.0 L198.2,101.7 L200.1,100.4 L202.0,99.1 L203.9,97.9 L205.8,96.7 L207.7,95.6 L209.7,94.5 L211.6,93.5 L213.6,92.5 L215.5,91.5 L217.5,90.6 L219.5,89.8 L221.5,89.0 L223.5,88.3 L225.5,87.5 L227.5,86.9 L229.6,86.2 L231.6,85.7 L233.7,85.1 L235.7,84.6 L237.8,84.1 L239.9,83.7 L242.0,83.2 L244.1,82.9 L246.2,82.5 L248.3,82.2 L250.5,81.8 L252.6,81.5 L254.8,81.3 L256.9,81.0 L259.1,80.8 L261.3,80.5 L263.5,80.3 L265.7,80.1 L267.9,80.0 L270.1,79.8 L272.4,79.6 L274.6,79.5 L276.8,79.4 L279.1,79.2 L281.4,79.1 L283.7,79.0 L285.9,78.9 L288.2,78.8 L290.6,78.7 L292.9,78.6 L295.2,78.5 L297.5,78.5 L299.9,78.4 L302.2,78.3 L304.6,78.3 L307.0,78.2 L309.4,78.2 L311.7,78.1 L314.1,78.1 L316.6,78.0 L319.0,78.0 L321.4,77.9 L323.8,77.9 L326.3,77.9 L328.7,77.8 L331.2,77.8 L333.7,77.8 L336.1,77.8 L338.6,77.7 L341.1,77.7 L343.6,77.7 L346.2,77.7 L348.7,77.6 L351.2,77.6 L353.8,77.6 L356.3,77.6 L358.9,77.6 L361.4,77.6 L364.0,77.6 L366.6,77.5 L369.2,77.5 L371.8,77.5 L374.4,77.5 L377.0,77.5 L379.7,77.5 L382.3,77.5 L384.9,77.5 L387.6,77.5 L390.3,77.5 L392.9,77.5 L395.6,77.5 L398.3,77.5 L401.0,77.4 L403.7,77.4 L406.4,77.4 L409.1,77.4 L411.9,77.4 L414.6,77.4 L417.4,77.4 L420.1,77.4 L422.9,77.4 L425.6,77.4 L428.4,77.4 L431.2,77.4 L434.0,77.4 L436.8,77.4 L439.6,77.4 L442.4,77.4 L445.3,77.4 L448.1,77.4 L451.0,77.4 L453.8,77.4 L456.7,77.4 L459.5,77.4 L462.4,77.4 L465.3,77.4 L468.2,77.4 L471.1,77.4 L474.0,77.4 L476.9,77.4 L479.9,77.4 L482.8,77.4 L485.7,77.4 L488.7,77.4 L491.6,77.4 L494.6,77.4 L497.6,77.4 L500.6,77.4 L503.5,77.4 L506.5,77.4 L509.6,77.4 L512.6,77.4 L515.6,77.4 L518.6,77.4 L521.6,77.4 L524.7,77.4 L527.7,77.4 L530.8,77.4 L533.9,77.4 L536.9,77.4 L540.0,77.4 L543.1,77.4 L546.2,77.4 L549.3,77.4 L552.4,77.4 L555.5,77.4 L558.7,77.4 L561.8,77.4 L565.0,77.4 L568.1,77.4 L571.3,77.4 L574.4,77.4 L577.6,77.4 L580.8,77.4 L584.0,77.4 L587.2,77.4 L590.4,77.4 L593.6,77.4 L596.8,77.4 L600.0,77.4" fill="none" stroke="#000000" stroke-width="3.8" stroke-linecap="round" stroke-dasharray="8.7 10.3 0.6 10.3 0.6 11.7" stroke-dashoffset="11.60"/>
</g>
<path d="M85.8,289.8 H230.7 V73.6 H85.8 V289.8" fill="none" stroke="#f01414" stroke-width="2.6" stroke-dasharray="8.7 7.65" stroke-dashoffset="1.15"/>
<rect x="69.30" y="6.00" width="589.70" height="474.30" fill="none" stroke="#000" stroke-width="2.8"/>
<line x1="187.24" y1="480.30" x2="187.24" y2="471.00" stroke="#000" stroke-width="2.4"/>
<line x1="305.18" y1="480.30" x2="305.18" y2="471.00" stroke="#000" stroke-width="2.4"/>
<line x1="423.12" y1="480.30" x2="423.12" y2="471.00" stroke="#000" stroke-width="2.4"/>
<line x1="541.06" y1="480.30" x2="541.06" y2="471.00" stroke="#000" stroke-width="2.4"/>
<line x1="69.30" y1="407.14" x2="78.30" y2="407.14" stroke="#000" stroke-width="2.4"/>
<line x1="69.30" y1="334.28" x2="78.30" y2="334.28" stroke="#000" stroke-width="2.4"/>
<line x1="69.30" y1="261.42" x2="78.30" y2="261.42" stroke="#000" stroke-width="2.4"/>
<line x1="69.30" y1="188.56" x2="78.30" y2="188.56" stroke="#000" stroke-width="2.4"/>
<line x1="69.30" y1="115.70" x2="78.30" y2="115.70" stroke="#000" stroke-width="2.4"/>
<line x1="69.30" y1="42.84" x2="78.30" y2="42.84" stroke="#000" stroke-width="2.4"/>
<text x="69.30" y="506.3" text-anchor="middle" font-family="Liberation Serif, serif" font-size="22" stroke="#000" stroke-width="0.25">0</text>
<text x="187.24" y="506.3" text-anchor="middle" font-family="Liberation Serif, serif" font-size="22" stroke="#000" stroke-width="0.25">20</text>
<text x="305.18" y="506.3" text-anchor="middle" font-family="Liberation Serif, serif" font-size="22" stroke="#000" stroke-width="0.25">40</text>
<text x="423.12" y="506.3" text-anchor="middle" font-family="Liberation Serif, serif" font-size="22" stroke="#000" stroke-width="0.25">60</text>
<text x="541.06" y="506.3" text-anchor="middle" font-family="Liberation Serif, serif" font-size="22" stroke="#000" stroke-width="0.25">80</text>
<text x="659.40" y="506.3" text-anchor="middle" font-family="Liberation Serif, serif" font-size="22" stroke="#000" stroke-width="0.25" textLength="31" lengthAdjust="spacingAndGlyphs">100</text>
<text x="59" y="485.80" text-anchor="end" font-family="Liberation Serif, serif" font-size="22" stroke="#000" stroke-width="0.25">2</text>
<text x="59" y="412.94" text-anchor="end" font-family="Liberation Serif, serif" font-size="22" stroke="#000" stroke-width="0.25">4</text>
<text x="59" y="340.08" text-anchor="end" font-family="Liberation Serif, serif" font-size="22" stroke="#000" stroke-width="0.25">6</text>
<text x="59" y="267.22" text-anchor="end" font-family="Liberation Serif, serif" font-size="22" stroke="#000" stroke-width="0.25">8</text>
<text x="59" y="194.36" text-anchor="end" font-family="Liberation Serif, serif" font-size="22" stroke="#000" stroke-width="0.25" textLength="20.4" lengthAdjust="spacingAndGlyphs">10</text>
<text x="59" y="121.50" text-anchor="end" font-family="Liberation Serif, serif" font-size="22" stroke="#000" stroke-width="0.25" textLength="20.4" lengthAdjust="spacingAndGlyphs">12</text>
<text x="59" y="48.64" text-anchor="end" font-family="Liberation Serif, serif" font-size="22" stroke="#000" stroke-width="0.25" textLength="20.4" lengthAdjust="spacingAndGlyphs">14</text>
<text x="314.3" y="534.7" text-anchor="middle" font-family="Liberation Serif, serif" font-size="23.7" textLength="218" lengthAdjust="spacingAndGlyphs" stroke="#000" stroke-width="0.3">Dry shrinkage age (d)</text>
<text transform="translate(30.2,245.3) rotate(-90)" text-anchor="middle" font-family="Liberation Serif, serif" font-size="23.5" textLength="276" lengthAdjust="spacingAndGlyphs" stroke="#000" stroke-width="0.3">Coefficient of shrinkage (%)</text>
<rect x="128.38" y="10.77" width="9.45" height="9.45" fill="#020d04" stroke="#1f5a28" stroke-width="1.0" stroke-linejoin="miter"/>
<text x="148.5" y="20" font-family="Liberation Serif, serif" font-weight="bold" font-size="12.6" textLength="14.6" lengthAdjust="spacingAndGlyphs">CS</text>
<circle cx="195.40" cy="15.40" r="5.59" fill="#ee1c1c"/>
<text x="213" y="20" font-family="Liberation Serif, serif" font-weight="bold" font-size="13.2" textLength="30.8" lengthAdjust="spacingAndGlyphs">GSS3</text>
<polygon points="268.50,19.30 282.50,19.30 275.50,7.60" fill="#0c18c4"/>
<text x="292.4" y="19.9" font-family="Liberation Serif, serif" font-weight="bold" font-size="13.3" textLength="54.5" lengthAdjust="spacingAndGlyphs">GCG15-3</text>
<polygon points="374.40,12.20 387.40,12.20 380.90,23.60" fill="#2c0870" stroke="#6a18c0" stroke-width="1.0" stroke-linejoin="miter"/>
<text x="397.6" y="20.2" font-family="Liberation Serif, serif" font-weight="bold" font-size="13.2" textLength="54.4" lengthAdjust="spacingAndGlyphs">GCG30-3</text>
<polygon points="478.90,15.70 486.00,8.60 493.10,15.70 486.00,22.80" fill="#000000"/>
<text x="502.4" y="19.8" font-family="Liberation Serif, serif" font-weight="bold" font-size="12.4" textLength="50" lengthAdjust="spacingAndGlyphs">GCH45-3</text>
<line x1="115.4" y1="34.8" x2="150.7" y2="34.8" stroke="#2c7a36" stroke-width="3.6" stroke-linecap="round"/>
<line x1="115.2" y1="34.8" x2="150.9" y2="34.8" stroke="#031006" stroke-width="2.6" stroke-linecap="round"/>
<text x="153.3" y="39.1" font-family="Liberation Serif, serif" font-weight="bold" font-size="12.1" textLength="85" lengthAdjust="spacingAndGlyphs">CS Fitting curve</text>
<line x1="241.4" y1="34.8" x2="252.5" y2="34.8" stroke="#e80e0e" stroke-width="3.2" stroke-linecap="round"/>
<line x1="268.8" y1="34.8" x2="276.4" y2="34.8" stroke="#e80e0e" stroke-width="3.2" stroke-linecap="round"/>
<text x="280.6" y="39.1" font-family="Liberation Serif, serif" font-weight="bold" font-size="12.1" textLength="98.5" lengthAdjust="spacingAndGlyphs">GSS3 Fitting curve</text>
<line x1="385" y1="34.8" x2="386.9" y2="34.8" stroke="#0c14a8" stroke-width="3.2" stroke-linecap="round"/>
<line x1="400.7" y1="34.8" x2="403.5" y2="34.8" stroke="#0c14a8" stroke-width="3.2" stroke-linecap="round"/>
<line x1="417.2" y1="34.8" x2="419.4" y2="34.8" stroke="#0c14a8" stroke-width="3.2" stroke-linecap="round"/>
<text x="424.6" y="39.1" font-family="Liberation Serif, serif" font-weight="bold" font-size="12.1" textLength="119" lengthAdjust="spacingAndGlyphs">GCG15-3 Fitting curve</text>
<line x1="115.5" y1="54.5" x2="129.4" y2="54.5" stroke="#2e0a80" stroke-width="3.4" stroke-linecap="round"/>
<line x1="138.7" y1="54.5" x2="141.0" y2="54.5" stroke="#2e0a80" stroke-width="3.4" stroke-linecap="round"/>
<line x1="149.8" y1="54.5" x2="150.6" y2="54.5" stroke="#2e0a80" stroke-width="3.4" stroke-linecap="round"/>
<text x="155.1" y="58.6" font-family="Liberation Serif, serif" font-weight="bold" font-size="12.2" textLength="121" lengthAdjust="spacingAndGlyphs">GCG30-3 Fitting curve</text>
<line x1="284.0" y1="54.5" x2="294.4" y2="54.5" stroke="#000" stroke-width="3.5" stroke-linecap="round"/>
<line x1="303.5" y1="54.5" x2="306.3" y2="54.5" stroke="#000" stroke-width="3.5" stroke-linecap="round"/>
<line x1="314.6" y1="54.5" x2="316.5" y2="54.5" stroke="#000" stroke-width="3.5" stroke-linecap="round"/>
<text x="320.1" y="58.6" font-family="Liberation Serif, serif" font-weight="bold" font-size="12.2" textLength="120.3" lengthAdjust="spacingAndGlyphs">GCG45-3 Fitting curve</text>
<line x1="247" y1="211.2" x2="284" y2="231.1" stroke="#1414ff" stroke-width="1.7" stroke-linecap="round"/>
<polygon points="292.80,235.80 279.36,233.35 283.33,225.95" fill="#1414ff"/>
<defs><clipPath id="ci"><rect x="308.0" y="226.9" width="269.29999999999995" height="134.1"/></clipPath></defs>
<g clip-path="url(#ci)">
<rect x="328.79" y="370.07" width="3.6" height="3.6" fill="#0a4a12"/>
<rect x="339.78" y="344.88" width="3.6" height="3.6" fill="#0a4a12"/>
<rect x="350.77" y="322.40" width="3.6" height="3.6" fill="#0a4a12"/>
<rect x="372.75" y="305.38" width="3.6" height="3.6" fill="#0a4a12"/>
<rect x="394.73" y="288.35" width="3.6" height="3.6" fill="#0a4a12"/>
<rect x="416.71" y="278.14" width="3.6" height="3.6" fill="#0a4a12"/>
<rect x="460.67" y="267.92" width="3.6" height="3.6" fill="#0a4a12"/>
<rect x="482.65" y="258.84" width="3.6" height="3.6" fill="#0a4a12"/>
<rect x="504.63" y="253.17" width="3.6" height="3.6" fill="#0a4a12"/>
<rect x="526.61" y="246.36" width="3.6" height="3.6" fill="#0a4a12"/>
<rect x="548.59" y="245.22" width="3.6" height="3.6" fill="#0a4a12"/>
<rect x="570.57" y="244.09" width="3.6" height="3.6" fill="#0a4a12"/>
<circle cx="330.59" cy="338.96" r="2" fill="#f03030"/>
<circle cx="341.58" cy="321.94" r="2" fill="#f03030"/>
<circle cx="352.57" cy="304.91" r="2" fill="#f03030"/>
<circle cx="374.55" cy="291.29" r="2" fill="#f03030"/>
<circle cx="396.53" cy="281.07" r="2" fill="#f03030"/>
<circle cx="418.51" cy="273.13" r="2" fill="#f03030"/>
<circle cx="462.47" cy="264.05" r="2" fill="#f03030"/>
<circle cx="484.45" cy="259.51" r="2" fill="#f03030"/>
<circle cx="506.43" cy="257.24" r="2" fill="#f03030"/>
<circle cx="528.41" cy="255.20" r="2" fill="#f03030"/>
<circle cx="550.39" cy="255.20" r="2" fill="#f03030"/>
<circle cx="572.37" cy="255.20" r="2" fill="#f03030"/>
<polygon points="328.39,349.64 332.79,349.64 330.59,345.64" fill="#1a50e0"/>
<polygon points="339.38,333.75 343.78,333.75 341.58,329.75" fill="#1a50e0"/>
<polygon points="350.37,322.40 354.77,322.40 352.57,318.40" fill="#1a50e0"/>
<polygon points="372.35,307.64 376.75,307.64 374.55,303.64" fill="#1a50e0"/>
<polygon points="394.33,295.16 398.73,295.16 396.53,291.16" fill="#1a50e0"/>
<polygon points="416.31,284.94 420.71,284.94 418.51,280.94" fill="#1a50e0"/>
<polygon points="460.27,274.73 464.67,274.73 462.47,270.73" fill="#1a50e0"/>
<polygon points="482.25,266.79 486.65,266.79 484.45,262.79" fill="#1a50e0"/>
<polygon points="504.23,260.43 508.63,260.43 506.43,256.43" fill="#1a50e0"/>
<polygon points="526.21,254.30 530.61,254.30 528.41,250.30" fill="#1a50e0"/>
<polygon points="548.19,249.76 552.59,249.76 550.39,245.76" fill="#1a50e0"/>
<polygon points="570.17,246.81 574.57,246.81 572.37,242.81" fill="#1a50e0"/>
<polygon points="328.39,338.49 332.79,338.49 330.59,342.49" fill="#6a12c8"/>
<polygon points="339.38,319.20 343.78,319.20 341.58,323.20" fill="#6a12c8"/>
<polygon points="350.37,302.17 354.77,302.17 352.57,306.17" fill="#6a12c8"/>
<polygon points="372.35,288.55 376.75,288.55 374.55,292.55" fill="#6a12c8"/>
<polygon points="394.33,278.34 398.73,278.34 396.53,282.34" fill="#6a12c8"/>
<polygon points="416.31,269.26 420.71,269.26 418.51,273.26" fill="#6a12c8"/>
<polygon points="460.27,257.91 464.67,257.91 462.47,261.91" fill="#6a12c8"/>
<polygon points="482.25,251.10 486.65,251.10 484.45,255.10" fill="#6a12c8"/>
<polygon points="504.23,244.29 508.63,244.29 506.43,248.29" fill="#6a12c8"/>
<polygon points="526.21,238.61 530.61,238.61 528.41,242.61" fill="#6a12c8"/>
<polygon points="548.19,236.34 552.59,236.34 550.39,240.34" fill="#6a12c8"/>
<polygon points="570.17,232.94 574.57,232.94 572.37,236.94" fill="#6a12c8"/>
<circle cx="330.59" cy="365.06" r="2.1" fill="#000"/>
<circle cx="341.58" cy="340.09" r="2.1" fill="#000"/>
<circle cx="352.57" cy="320.80" r="2.1" fill="#000"/>
<circle cx="374.55" cy="305.36" r="2.1" fill="#000"/>
<circle cx="396.53" cy="292.65" r="2.1" fill="#000"/>
<circle cx="418.51" cy="281.53" r="2.1" fill="#000"/>
<circle cx="462.47" cy="271.54" r="2.1" fill="#000"/>
<circle cx="484.45" cy="261.78" r="2.1" fill="#000"/>
<circle cx="506.43" cy="251.56" r="2.1" fill="#000"/>
<circle cx="528.41" cy="243.62" r="2.1" fill="#000"/>
<circle cx="550.39" cy="236.81" r="2.1" fill="#000"/>
<circle cx="572.37" cy="231.59" r="2.1" fill="#000"/>
<path d="M308.6,422.0 L308.7,421.7 L309.0,421.0 L309.3,420.1 L309.8,419.0 L310.3,417.7 L310.9,416.3 L311.5,414.8 L312.2,413.1 L312.9,411.3 L313.7,409.4 L314.5,407.4 L315.4,405.3 L316.3,403.2 L317.3,401.0 L318.3,398.7 L319.4,396.3 L320.5,393.9 L321.6,391.5 L322.8,389.0 L324.0,386.5 L325.2,383.9 L326.5,381.3 L327.8,378.7 L329.2,376.1 L330.6,373.5 L332.0,370.8 L333.5,368.2 L335.0,365.5 L336.5,362.9 L338.0,360.2 L339.6,357.6 L341.2,355.0 L342.9,352.3 L344.6,349.7 L346.3,347.2 L348.0,344.6 L349.8,342.0 L351.6,339.5 L353.4,337.0 L355.2,334.6 L357.1,332.1 L359.0,329.7 L360.9,327.3 L362.9,325.0 L364.9,322.7 L366.9,320.4 L368.9,318.2 L371.0,315.9 L373.1,313.8 L375.2,311.7 L377.4,309.6 L379.5,307.5 L381.7,305.5 L384.0,303.6 L386.2,301.6 L388.5,299.7 L390.8,297.9 L393.1,296.1 L395.4,294.3 L397.8,292.6 L400.2,290.9 L402.6,289.3 L405.0,287.7 L407.5,286.2 L410.0,284.6 L412.5,283.2 L415.0,281.7 L417.6,280.3 L420.1,279.0 L422.7,277.7 L425.4,276.4 L428.0,275.1 L430.7,273.9 L433.4,272.7 L436.1,271.6 L438.8,270.5 L441.5,269.4 L444.3,268.4 L447.1,267.4 L449.9,266.4 L452.8,265.5 L455.6,264.6 L458.5,263.7 L461.4,262.9 L464.3,262.0 L467.3,261.2 L470.2,260.5 L473.2,259.7 L476.2,259.0 L479.2,258.3 L482.3,257.7 L485.3,257.1 L488.4,256.4 L491.5,255.9 L494.6,255.3 L497.8,254.7 L501.0,254.2 L504.1,253.7 L507.3,253.2 L510.6,252.8 L513.8,252.3 L517.1,251.9 L520.3,251.5 L523.6,251.1 L527.0,250.7 L530.3,250.3 L533.6,250.0 L537.0,249.7 L540.4,249.3 L543.8,249.0 L547.3,248.7 L550.7,248.5 L554.2,248.2 L557.7,247.9 L561.2,247.7 L564.7,247.5 L568.2,247.2 L571.8,247.0 L575.4,246.8 L579.0,246.6" fill="none" stroke="#1a5a24" stroke-width="1.9"/>
<path d="M308.6,422.0 L308.7,421.7 L309.0,421.0 L309.3,420.1 L309.8,419.0 L310.3,417.7 L310.9,416.3 L311.5,414.8 L312.2,413.1 L312.9,411.3 L313.7,409.4 L314.5,407.4 L315.4,405.3 L316.3,403.2 L317.3,401.0 L318.3,398.7 L319.4,396.3 L320.5,393.9 L321.6,391.5 L322.8,389.0 L324.0,386.5 L325.2,383.9 L326.5,381.3 L327.8,378.7 L329.2,376.1 L330.6,373.5 L332.0,370.8 L333.5,368.2 L335.0,365.5 L336.5,362.9 L338.0,360.2 L339.6,357.6 L341.2,355.0 L342.9,352.3 L344.6,349.7 L346.3,347.2 L348.0,344.6 L349.8,342.0 L351.6,339.5 L353.4,337.0 L355.2,334.6 L357.1,332.1 L359.0,329.7 L360.9,327.3 L362.9,325.0 L364.9,322.7 L366.9,320.4 L368.9,318.2 L371.0,315.9 L373.1,313.8 L375.2,311.7 L377.4,309.6 L379.5,307.5 L381.7,305.5 L384.0,303.6 L386.2,301.6 L388.5,299.7 L390.8,297.9 L393.1,296.1 L395.4,294.3 L397.8,292.6 L400.2,290.9 L402.6,289.3 L405.0,287.7 L407.5,286.2 L410.0,284.6 L412.5,283.2 L415.0,281.7 L417.6,280.3 L420.1,279.0 L422.7,277.7 L425.4,276.4 L428.0,275.1 L430.7,273.9 L433.4,272.7 L436.1,271.6 L438.8,270.5 L441.5,269.4 L444.3,268.4 L447.1,267.4 L449.9,266.4 L452.8,265.5 L455.6,264.6 L458.5,263.7 L461.4,262.9 L464.3,262.0 L467.3,261.2 L470.2,260.5 L473.2,259.7 L476.2,259.0 L479.2,258.3 L482.3,257.7 L485.3,257.1 L488.4,256.4 L491.5,255.9 L494.6,255.3 L497.8,254.7 L501.0,254.2 L504.1,253.7 L507.3,253.2 L510.6,252.8 L513.8,252.3 L517.1,251.9 L520.3,251.5 L523.6,251.1 L527.0,250.7 L530.3,250.3 L533.6,250.0 L537.0,249.7 L540.4,249.3 L543.8,249.0 L547.3,248.7 L550.7,248.5 L554.2,248.2 L557.7,247.9 L561.2,247.7 L564.7,247.5 L568.2,247.2 L571.8,247.0 L575.4,246.8 L579.0,246.6" fill="none" stroke="#04200a" stroke-width="1.0"/>
<path d="M308.6,384.1 L308.7,383.9 L309.0,383.5 L309.3,382.9 L309.8,382.2 L310.3,381.4 L310.9,380.5 L311.5,379.5 L312.2,378.5 L312.9,377.3 L313.7,376.1 L314.5,374.8 L315.4,373.5 L316.3,372.1 L317.3,370.7 L318.3,369.2 L319.4,367.7 L320.5,366.1 L321.6,364.5 L322.8,362.9 L324.0,361.2 L325.2,359.5 L326.5,357.8 L327.8,356.1 L329.2,354.3 L330.6,352.5 L332.0,350.7 L333.5,348.9 L335.0,347.1 L336.5,345.3 L338.0,343.5 L339.6,341.7 L341.2,339.9 L342.9,338.0 L344.6,336.2 L346.3,334.4 L348.0,332.6 L349.8,330.7 L351.6,328.9 L353.4,327.1 L355.2,325.4 L357.1,323.6 L359.0,321.8 L360.9,320.1 L362.9,318.3 L364.9,316.6 L366.9,314.9 L368.9,313.2 L371.0,311.5 L373.1,309.9 L375.2,308.3 L377.4,306.7 L379.5,305.1 L381.7,303.5 L384.0,301.9 L386.2,300.4 L388.5,298.9 L390.8,297.4 L393.1,296.0 L395.4,294.5 L397.8,293.1 L400.2,291.7 L402.6,290.4 L405.0,289.0 L407.5,287.7 L410.0,286.4 L412.5,285.2 L415.0,283.9 L417.6,282.7 L420.1,281.5 L422.7,280.3 L425.4,279.2 L428.0,278.1 L430.7,277.0 L433.4,275.9 L436.1,274.8 L438.8,273.8 L441.5,272.8 L444.3,271.8 L447.1,270.9 L449.9,270.0 L452.8,269.1 L455.6,268.2 L458.5,267.3 L461.4,266.5 L464.3,265.6 L467.3,264.8 L470.2,264.1 L473.2,263.3 L476.2,262.6 L479.2,261.9 L482.3,261.2 L485.3,260.5 L488.4,259.8 L491.5,259.2 L494.6,258.6 L497.8,257.9 L501.0,257.4 L504.1,256.8 L507.3,256.2 L510.6,255.7 L513.8,255.2 L517.1,254.7 L520.3,254.2 L523.6,253.7 L527.0,253.3 L530.3,252.8 L533.6,252.4 L537.0,252.0 L540.4,251.6 L543.8,251.2 L547.3,250.8 L550.7,250.4 L554.2,250.1 L557.7,249.8 L561.2,249.4 L564.7,249.1 L568.2,248.8 L571.8,248.5 L575.4,248.2 L579.0,247.9" fill="none" stroke="#7aa8f0" stroke-width="1.2" stroke-linecap="round" stroke-dasharray="0.01 4.5"/>
<path d="M308.6,397.2 L308.7,396.8 L309.0,396.1 L309.3,395.0 L309.8,393.8 L310.3,392.4 L310.9,390.8 L311.5,389.0 L312.2,387.2 L312.9,385.2 L313.7,383.1 L314.5,380.9 L315.4,378.6 L316.3,376.3 L317.3,373.9 L318.3,371.4 L319.4,368.9 L320.5,366.4 L321.6,363.8 L322.8,361.2 L324.0,358.6 L325.2,355.9 L326.5,353.3 L327.8,350.6 L329.2,348.0 L330.6,345.4 L332.0,342.8 L333.5,340.2 L335.0,337.6 L336.5,335.0 L338.0,332.5 L339.6,330.0 L341.2,327.6 L342.9,325.2 L344.6,322.8 L346.3,320.4 L348.0,318.1 L349.8,315.9 L351.6,313.7 L353.4,311.5 L355.2,309.4 L357.1,307.3 L359.0,305.3 L360.9,303.3 L362.9,301.4 L364.9,299.6 L366.9,297.7 L368.9,296.0 L371.0,294.3 L373.1,292.6 L375.2,291.0 L377.4,289.4 L379.5,287.9 L381.7,286.5 L384.0,285.1 L386.2,283.7 L388.5,282.4 L390.8,281.1 L393.1,279.9 L395.4,278.7 L397.8,277.6 L400.2,276.5 L402.6,275.5 L405.0,274.5 L407.5,273.5 L410.0,272.6 L412.5,271.7 L415.0,270.8 L417.6,270.0 L420.1,269.2 L422.7,268.5 L425.4,267.8 L428.0,267.1 L430.7,266.5 L433.4,265.8 L436.1,265.3 L438.8,264.7 L441.5,264.2 L444.3,263.6 L447.1,263.2 L449.9,262.7 L452.8,262.3 L455.6,261.8 L458.5,261.4 L461.4,261.1 L464.3,260.7 L467.3,260.4 L470.2,260.1 L473.2,259.8 L476.2,259.5 L479.2,259.2 L482.3,258.9 L485.3,258.7 L488.4,258.5 L491.5,258.2 L494.6,258.0 L497.8,257.9 L501.0,257.7 L504.1,257.5 L507.3,257.3 L510.6,257.2 L513.8,257.0 L517.1,256.9 L520.3,256.8 L523.6,256.7 L527.0,256.5 L530.3,256.4 L533.6,256.3 L537.0,256.3 L540.4,256.2 L543.8,256.1 L547.3,256.0 L550.7,255.9 L554.2,255.9 L557.7,255.8 L561.2,255.8 L564.7,255.7 L568.2,255.6 L571.8,255.6 L575.4,255.6 L579.0,255.5" fill="none" stroke="#f03a3a" stroke-width="1.4" stroke-dasharray="4 3.5"/>
<path d="M308.6,392.5 L308.7,392.2 L309.0,391.6 L309.3,390.8 L309.8,389.9 L310.3,388.8 L310.9,387.6 L311.5,386.2 L312.2,384.8 L312.9,383.2 L313.7,381.6 L314.5,379.9 L315.4,378.1 L316.3,376.2 L317.3,374.3 L318.3,372.3 L319.4,370.3 L320.5,368.2 L321.6,366.1 L322.8,363.9 L324.0,361.7 L325.2,359.5 L326.5,357.3 L327.8,355.0 L329.2,352.7 L330.6,350.4 L332.0,348.1 L333.5,345.8 L335.0,343.5 L336.5,341.2 L338.0,338.9 L339.6,336.6 L341.2,334.3 L342.9,332.0 L344.6,329.7 L346.3,327.5 L348.0,325.2 L349.8,323.0 L351.6,320.8 L353.4,318.6 L355.2,316.4 L357.1,314.3 L359.0,312.2 L360.9,310.1 L362.9,308.1 L364.9,306.0 L366.9,304.0 L368.9,302.1 L371.0,300.1 L373.1,298.2 L375.2,296.3 L377.4,294.5 L379.5,292.7 L381.7,290.9 L384.0,289.2 L386.2,287.5 L388.5,285.8 L390.8,284.2 L393.1,282.6 L395.4,281.0 L397.8,279.5 L400.2,278.0 L402.6,276.6 L405.0,275.2 L407.5,273.8 L410.0,272.4 L412.5,271.1 L415.0,269.8 L417.6,268.6 L420.1,267.4 L422.7,266.2 L425.4,265.0 L428.0,263.9 L430.7,262.8 L433.4,261.8 L436.1,260.8 L438.8,259.8 L441.5,258.8 L444.3,257.9 L447.1,257.0 L449.9,256.1 L452.8,255.3 L455.6,254.5 L458.5,253.7 L461.4,252.9 L464.3,252.2 L467.3,251.4 L470.2,250.8 L473.2,250.1 L476.2,249.4 L479.2,248.8 L482.3,248.2 L485.3,247.6 L488.4,247.1 L491.5,246.6 L494.6,246.0 L497.8,245.5 L501.0,245.1 L504.1,244.6 L507.3,244.2 L510.6,243.7 L513.8,243.3 L517.1,242.9 L520.3,242.5 L523.6,242.2 L527.0,241.8 L530.3,241.5 L533.6,241.2 L537.0,240.9 L540.4,240.6 L543.8,240.3 L547.3,240.0 L550.7,239.8 L554.2,239.5 L557.7,239.3 L561.2,239.0 L564.7,238.8 L568.2,238.6 L571.8,238.4 L575.4,238.2 L579.0,238.0" fill="none" stroke="#8a20d0" stroke-width="1.5" stroke-dasharray="6 2.5 1.5 2.5"/>
<path d="M308.6,422.0 L308.7,421.6 L309.0,421.0 L309.3,420.1 L309.8,419.0 L310.3,417.7 L310.9,416.3 L311.5,414.7 L312.2,413.1 L312.9,411.3 L313.7,409.4 L314.5,407.4 L315.4,405.3 L316.3,403.2 L317.3,400.9 L318.3,398.6 L319.4,396.3 L320.5,393.9 L321.6,391.5 L322.8,389.0 L324.0,386.4 L325.2,383.9 L326.5,381.3 L327.8,378.7 L329.2,376.1 L330.6,373.5 L332.0,370.8 L333.5,368.2 L335.0,365.5 L336.5,362.8 L338.0,360.2 L339.6,357.5 L341.2,354.9 L342.9,352.3 L344.6,349.7 L346.3,347.1 L348.0,344.5 L349.8,342.0 L351.6,339.4 L353.4,336.9 L355.2,334.5 L357.1,332.0 L359.0,329.6 L360.9,327.2 L362.9,324.9 L364.9,322.6 L366.9,320.3 L368.9,318.0 L371.0,315.8 L373.1,313.6 L375.2,311.5 L377.4,309.4 L379.5,307.3 L381.7,305.3 L384.0,303.4 L386.2,301.4 L388.5,299.5 L390.8,297.7 L393.1,295.8 L395.4,294.1 L397.8,292.3 L400.2,290.6 L402.6,289.0 L405.0,287.3 L407.5,285.7 L410.0,284.2 L412.5,282.7 L415.0,281.2 L417.6,279.8 L420.1,278.4 L422.7,277.0 L425.4,275.7 L428.0,274.4 L430.7,273.1 L433.4,271.9 L436.1,270.7 L438.8,269.5 L441.5,268.4 L444.3,267.2 L447.1,266.1 L449.9,265.1 L452.8,264.0 L455.6,263.0 L458.5,262.0 L461.4,261.0 L464.3,260.1 L467.3,259.1 L470.2,258.2 L473.2,257.3 L476.2,256.4 L479.2,255.5 L482.3,254.7 L485.3,253.8 L488.4,253.0 L491.5,252.2 L494.6,251.3 L497.8,250.5 L501.0,249.8 L504.1,249.0 L507.3,248.2 L510.6,247.5 L513.8,246.7 L517.1,246.0 L520.3,245.3 L523.6,244.6 L527.0,243.9 L530.3,243.3 L533.6,242.7 L537.0,242.0 L540.4,241.5 L543.8,240.9 L547.3,240.3 L550.7,239.8 L554.2,239.3 L557.7,238.8 L561.2,238.4 L564.7,237.9 L568.2,237.5 L571.8,237.1 L575.4,236.7 L579.0,236.4" fill="none" stroke="#111" stroke-width="1.5" stroke-dasharray="1.5 2"/>
</g>
<rect x="308.0" y="226.9" width="269.29999999999995" height="134.1" fill="none" stroke="#000" stroke-width="1.5"/>
<line x1="319.60" y1="361.0" x2="319.60" y2="358.5" stroke="#000" stroke-width="1"/>
<text x="319.60" y="371.3" text-anchor="middle" font-family="Liberation Serif, serif" font-weight="bold" font-size="6.5">4</text>
<line x1="341.58" y1="361.0" x2="341.58" y2="358.5" stroke="#000" stroke-width="1"/>
<text x="341.58" y="371.3" text-anchor="middle" font-family="Liberation Serif, serif" font-weight="bold" font-size="6.5">6</text>
<line x1="363.56" y1="361.0" x2="363.56" y2="358.5" stroke="#000" stroke-width="1"/>
<text x="363.56" y="371.3" text-anchor="middle" font-family="Liberation Serif, serif" font-weight="bold" font-size="6.5">8</text>
<line x1="385.54" y1="361.0" x2="385.54" y2="358.5" stroke="#000" stroke-width="1"/>
<text x="385.54" y="371.3" text-anchor="middle" font-family="Liberation Serif, serif" font-weight="bold" font-size="6.5">10</text>
<line x1="407.52" y1="361.0" x2="407.52" y2="358.5" stroke="#000" stroke-width="1"/>
<text x="407.52" y="371.3" text-anchor="middle" font-family="Liberation Serif, serif" font-weight="bold" font-size="6.5">12</text>
<line x1="429.50" y1="361.0" x2="429.50" y2="358.5" stroke="#000" stroke-width="1"/>
<text x="429.50" y="371.3" text-anchor="middle" font-family="Liberation Serif, serif" font-weight="bold" font-size="6.5">14</text>
<line x1="451.48" y1="361.0" x2="451.48" y2="358.5" stroke="#000" stroke-width="1"/>
<text x="451.48" y="371.3" text-anchor="middle" font-family="Liberation Serif, serif" font-weight="bold" font-size="6.5">16</text>
<line x1="473.46" y1="361.0" x2="473.46" y2="358.5" stroke="#000" stroke-width="1"/>
<text x="473.46" y="371.3" text-anchor="middle" font-family="Liberation Serif, serif" font-weight="bold" font-size="6.5">18</text>
<line x1="495.44" y1="361.0" x2="495.44" y2="358.5" stroke="#000" stroke-width="1"/>
<text x="495.44" y="371.3" text-anchor="middle" font-family="Liberation Serif, serif" font-weight="bold" font-size="6.5">20</text>
<line x1="517.42" y1="361.0" x2="517.42" y2="358.5" stroke="#000" stroke-width="1"/>
<text x="517.42" y="371.3" text-anchor="middle" font-family="Liberation Serif, serif" font-weight="bold" font-size="6.5">22</text>
<line x1="539.40" y1="361.0" x2="539.40" y2="358.5" stroke="#000" stroke-width="1"/>
<text x="539.40" y="371.3" text-anchor="middle" font-family="Liberation Serif, serif" font-weight="bold" font-size="6.5">24</text>
<line x1="561.38" y1="361.0" x2="561.38" y2="358.5" stroke="#000" stroke-width="1"/>
<text x="561.38" y="371.3" text-anchor="middle" font-family="Liberation Serif, serif" font-weight="bold" font-size="6.5">26</text>
<line x1="308.0" y1="343.50" x2="310.5" y2="343.50" stroke="#000" stroke-width="1"/>
<text x="304.5" y="345.70" text-anchor="end" font-family="Liberation Serif, serif" font-weight="bold" font-size="6.5">8</text>
<line x1="308.0" y1="298.10" x2="310.5" y2="298.10" stroke="#000" stroke-width="1"/>
<text x="304.5" y="300.30" text-anchor="end" font-family="Liberation Serif, serif" font-weight="bold" font-size="6.5">10</text>
<line x1="308.0" y1="252.70" x2="310.5" y2="252.70" stroke="#000" stroke-width="1"/>
<text x="304.5" y="254.90" text-anchor="end" font-family="Liberation Serif, serif" font-weight="bold" font-size="6.5">12</text>
<text x="427.5" y="383" text-anchor="middle" font-family="Liberation Serif, serif" font-weight="bold" font-size="7.6">Dry shrinkage age  (d)</text>
<text transform="translate(293.5,290) rotate(-90)" text-anchor="middle" font-family="Liberation Serif, serif" font-size="6.6" stroke="#000" stroke-width="0.15">Coefficient of shrinkage  (%)</text>
</svg>
</body></html>
